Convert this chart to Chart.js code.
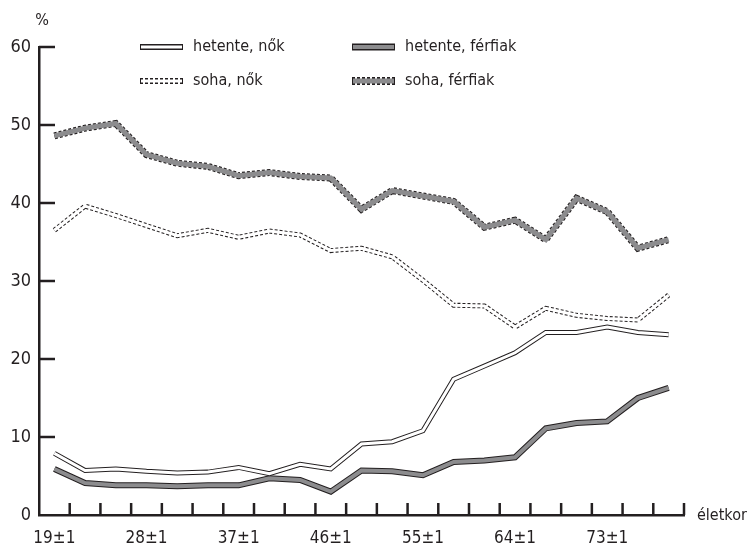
<!DOCTYPE html>
<html>
<head>
<meta charset="utf-8">
<script src="https://cdn.jsdelivr.net/npm/chart.js@4.4.1/dist/chart.umd.min.js"></script>
<style>
  html, body { margin: 0; padding: 0; background: #fff; }
  #wrap { width: 749px; height: 548px; }
</style>
</head>
<body>
<div id="wrap"><canvas id="chart" width="749" height="548"></canvas></div>
<script>
// életkor kategóriák (3 évente)
const ages = ['19±1','22±1','25±1','28±1','31±1','34±1','37±1','40±1','43±1','46±1','49±1',
              '52±1','55±1','58±1','61±1','64±1','67±1','70±1','73±1','76±1','79±1'];
const shownTicks = ['19±1','28±1','37±1','46±1','55±1','64±1','73±1'];
const yTicks = [0, 10, 20, 30, 40, 50, 60];

const hetenteNok     = [7.9, 5.7, 5.9, 5.6, 5.4, 5.5, 6.1, 5.3, 6.5, 5.9, 9.1, 9.4, 10.8, 17.4, 19.1, 20.8, 23.4, 23.4, 24.1, 23.4, 23.1];
const hetenteFerfiak = [5.9, 4.1, 3.8, 3.8, 3.7, 3.8, 3.8, 4.7, 4.5, 3.0, 5.7, 5.6, 5.1, 6.8, 7.0, 7.4, 11.1, 11.8, 12.0, 15.0, 16.3];
const sohaNok        = [36.5, 39.6, 38.4, 37.1, 35.8, 36.5, 35.6, 36.4, 35.9, 33.9, 34.2, 33.1, 30.1, 26.9, 26.8, 24.1, 26.5, 25.6, 25.2, 25.0, 28.2];
const sohaFerfiak    = [48.6, 49.6, 50.2, 46.2, 45.1, 44.7, 43.5, 43.9, 43.4, 43.2, 39.2, 41.6, 40.9, 40.2, 36.9, 37.8, 35.3, 40.6, 38.9, 34.2, 35.3];

const FONT = '"Liberation Sans Narrow", "DejaVu Sans Condensed", "Roboto Condensed", sans-serif';
const INK = '#231f20';

// vonalstílusok: külső körvonal + belső kitöltés
const series = [
  { label: 'hetente, nők',     data: hetenteNok,     outer: 5, inner: 3, fill: '#ffffff', dash: [] },
  { label: 'hetente, férfiak', data: hetenteFerfiak, outer: 6, inner: 4, fill: '#8c8c8e', dash: [] },
  { label: 'soha, nők',        data: sohaNok,        outer: 5, inner: 3, fill: '#ffffff', dash: [3, 2] },
  { label: 'soha, férfiak',    data: sohaFerfiak,    outer: 7, inner: 5, fill: '#8c8c8e', dash: [3, 2] }
];

const datasets = [];
series.forEach((s, k) => {
  datasets.push({ label: s.label, data: s.data, borderColor: s.fill, borderWidth: s.inner,
    pointRadius: 0, tension: 0, order: 2 * k });
  datasets.push({ label: s.label + ' (keret)', data: s.data, borderColor: INK, borderWidth: s.outer,
    borderDash: s.dash, pointRadius: 0, tension: 0, order: 2 * k + 1 });
});

// belső tick jelek, feliratok, jelmagyarázat
const decor = {
  id: 'decor',
  afterDraw(chart) {
    const ctx = chart.ctx;
    const x = chart.scales.x, y = chart.scales.y;
    const area = chart.chartArea;
    ctx.save();
    ctx.strokeStyle = INK;
    ctx.lineWidth = 2.5;
    const w = (x.right - x.left) / ages.length;
    for (let i = 0; i < ages.length; i++) {
      const px = x.getPixelForValue(i) + w / 2;
      ctx.beginPath(); ctx.moveTo(px, area.bottom); ctx.lineTo(px, area.bottom - 12); ctx.stroke();
    }
    yTicks.slice(1).forEach(v => {
      const py = y.getPixelForValue(v);
      ctx.beginPath(); ctx.moveTo(area.left, py); ctx.lineTo(area.left + 16, py); ctx.stroke();
    });

    ctx.fillStyle = INK;
    ctx.font = '16px ' + FONT;
    ctx.textBaseline = 'middle';
    ctx.textAlign = 'center';
    ctx.fillText('%', area.left + 3, 21);
    ctx.textAlign = 'left';
    ctx.fillText('életkor', area.right + 13, area.bottom + 1);

    // jelmagyarázat 2x2
    const pos = [[140, 47], [352, 47], [140, 81], [352, 81]];
    series.forEach((s, j) => {
      const [lx, ly] = pos[j];
      ctx.lineCap = 'butt';
      ctx.strokeStyle = INK; ctx.lineWidth = s.outer + 1; ctx.setLineDash(s.dash);
      ctx.beginPath(); ctx.moveTo(lx, ly); ctx.lineTo(lx + 43, ly); ctx.stroke();
      ctx.setLineDash([]);
      ctx.strokeStyle = s.fill; ctx.lineWidth = s.inner;
      ctx.beginPath(); ctx.moveTo(lx + 1, ly); ctx.lineTo(lx + 42, ly); ctx.stroke();
      ctx.fillStyle = INK;
      ctx.fillText(s.label, lx + 53, ly);
    });
    ctx.restore();
  }
};

new Chart(document.getElementById('chart'), {
  type: 'line',
  data: { labels: ages, datasets },
  plugins: [decor],
  options: {
    responsive: false,
    animation: false,
    layout: { padding: { top: 47, right: 65, left: 0, bottom: 0 } },
    plugins: { legend: { display: false }, tooltip: { enabled: false } },
    scales: {
      x: {
        type: 'category',
        offset: true,
        grid: { display: false, drawTicks: false },
        border: { display: true, color: INK, width: 2.5 },
        ticks: {
          autoSkip: false, maxRotation: 0, padding: 13, color: INK,
          font: { family: FONT, size: 17 },
          callback(v) { const l = ages[v]; return shownTicks.includes(l) ? l : ''; }
        },
        afterFit(s) { s.height = 33; }
      },
      y: {
        min: 0, max: 60,
        grid: { display: false, drawTicks: false },
        border: { display: true, color: INK, width: 2.5 },
        ticks: { stepSize: 10, padding: 8, color: INK, font: { family: FONT, size: 18 } },
        afterFit(s) { s.width = 39; }
      }
    }
  }
});
</script>
</body>
</html>
